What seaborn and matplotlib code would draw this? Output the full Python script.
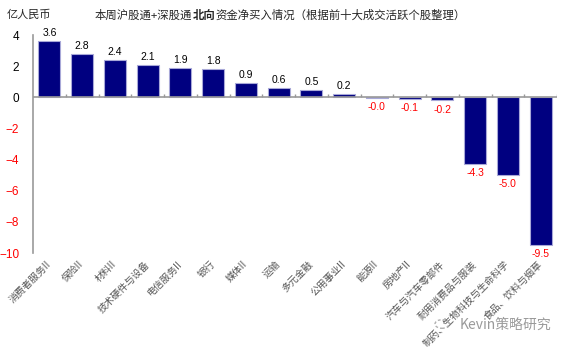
import matplotlib
matplotlib.use("Agg")
import matplotlib.pyplot as plt
from matplotlib.patches import Circle
import seaborn as sns

# Net northbound purchases by sector (100m RMB)
sectors = ["消费者服务II", "保险II", "材料II", "技术硬件与设备", "电信服务II", "银行",
           "媒体II", "运输", "多元金融", "公用事业II", "能源II", "房地产II",
           "汽车与汽车零部件", "耐用消费品与服装", "制药、生物科技与生命科学", "食品、饮料与烟草"]
net_buy = [3.6, 2.8, 2.4, 2.1, 1.9, 1.8, 0.9, 0.6, 0.5, 0.2,
           -0.02, -0.1, -0.2, -4.3, -5.0, -9.5]
y_ticks = [4, 2, 0, -2, -4, -6, -8, -10]

unit_label = "亿人民币"
title_parts = [("本周沪股通+深股通", "normal"), ("北向", "bold"),
               ("资金净买入情况（根据前十大成交活跃个股整理）", "normal")]
watermark = "Kevin策略研究"

sns.set_theme(style="white")
plt.rcParams["font.family"] = ["Liberation Sans", "Noto Sans CJK SC", "DejaVu Sans"]
cjk = ["Noto Sans CJK SC", "DejaVu Sans"]

fig = plt.figure(figsize=(5.7, 3.5), dpi=100)
ax = fig.add_axes([33 / 570, 1 - 253 / 350, (557 - 33) / 570, (253 - 35) / 350])

sns.barplot(x=sectors, y=net_buy, color="#000080", saturation=1, width=0.67,
            edgecolor="#a8a8d8", linewidth=0.8, ax=ax)
ax.set_xlim(-0.5, len(sectors) - 0.5)
ax.set_ylim(-10, 4)
ax.set_yticks(y_ticks)

# spines, zero line and category separators
for s in ["top", "right", "bottom"]:
    ax.spines[s].set_visible(False)
ax.spines["left"].set_color("#999999")
ax.spines["left"].set_linewidth(1.2)
ax.axhline(0, color="#999999", lw=1.2, zorder=1)
ax.vlines([k + 0.5 for k in range(len(sectors))], 0, 0.2, color="#999999", lw=1.0)

ax.tick_params(axis="y", direction="in", length=3, color="#999999", pad=10, labelsize=8.5)
for lbl, t in zip(ax.get_yticklabels(), y_ticks):
    lbl.set_color("red" if t < 0 else "black")

ax.tick_params(axis="x", length=0, pad=7)
ax.set_xticks(range(len(sectors)))
ax.set_xticklabels(sectors, rotation=45, ha="right", rotation_mode="anchor",
                   va="center", fontsize=7, color="#555555", family=cjk)
ax.set_xlabel("")
ax.set_ylabel("")

# value labels
for i, v in enumerate(net_buy):
    if v >= 0:
        ax.annotate(f"{v:.1f}", (i, v), xytext=(0, 2), textcoords="offset points",
                    ha="center", va="bottom", fontsize=7.5, color="black")
    else:
        ax.annotate(f"{v:.1f}", (i, v), xytext=(0, -3), textcoords="offset points",
                    ha="center", va="top", fontsize=7.5, color="red")

# headings
fig.text(7 / 570, 1 - 15 / 350, unit_label, fontsize=8, family=cjk, va="center", ha="left")
chain = fig.text(95 / 570, 1 - 15 / 350, title_parts[0][0], fontsize=8.2, family=cjk,
                 va="center", ha="left", fontweight=title_parts[0][1])
for txt, wt in title_parts[1:]:
    chain = ax.annotate(txt, xy=(1, 0.5), xycoords=chain, va="center", ha="left",
                        fontsize=8.2, family=cjk, fontweight=wt, annotation_clip=False)

# watermark
fig.patches.append(Circle((442 / 570, 1 - 324 / 350), 7 / 570, transform=fig.transFigure,
                          fill=False, edgecolor="#b0b0b0", lw=1.0, ls=(0, (2, 1.5))))
fig.text(460 / 570, 1 - 325 / 350, watermark, fontsize=10, family=cjk,
         color="#9a9a9a", va="center", ha="left")

fig.savefig("out.png", dpi=100)
